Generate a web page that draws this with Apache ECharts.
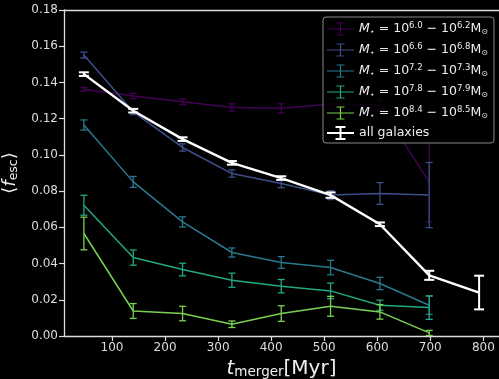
<!DOCTYPE html>
<html><head><meta charset="utf-8">
<script src="https://cdn.jsdelivr.net/npm/echarts@6/dist/echarts.min.js"></script>
<style>html,body{margin:0;padding:0;background:#000;}#c{width:499px;height:379px;}</style>
</head><body><div id="c"></div>
<script>
// ---- data ----
const tBins = [47, 140, 233, 326, 419, 512, 605, 698];
const tAll = [47, 140, 233, 326, 419, 512, 605, 698, 792];
const f60 = [0.1362, 0.1325, 0.1293, 0.1262, 0.1257, 0.1279, 0.1276, 0.085];
const e60 = [0.001, 0.0015, 0.0015, 0.002, 0.0025, 0.003, 0.003, 0.022];
const f66 = [0.1551, 0.1238, 0.1041, 0.0897, 0.0842, 0.0778, 0.0787, 0.0778];
const e66 = [0.0016, 0.0015, 0.002, 0.002, 0.0023, 0.0025, 0.006, 0.018];
const f72 = [0.1165, 0.0851, 0.063, 0.0461, 0.0406, 0.0378, 0.029, 0.017];
const e72 = [0.0028, 0.003, 0.0028, 0.0025, 0.0032, 0.004, 0.0034, 0.005];
const f78 = [0.0722, 0.0433, 0.0367, 0.0308, 0.0275, 0.0249, 0.017, 0.0157];
const e78 = [0.0055, 0.0042, 0.0035, 0.0039, 0.0037, 0.0043, 0.0028, 0.0065];
const f84 = [0.0566, 0.0138, 0.0124, 0.0065, 0.0124, 0.0164, 0.0133, 0.0017];
const e84 = [0.009, 0.0041, 0.004, 0.0018, 0.0043, 0.0055, 0.004, 0.0014];
const fAll = [0.1446, 0.1244, 0.1087, 0.0956, 0.0872, 0.0778, 0.0617, 0.0335, 0.024];
const eAll = [0.001, 0.001, 0.001, 0.001, 0.001, 0.0015, 0.001, 0.0025, 0.0093];
const xTicks = [100, 200, 300, 400, 500, 600, 700, 800];
const seriesNames = ['m60', 'm66', 'm72', 'm78', 'm84', 'all'];
const legendLabels = {
  m60: ['6.0', '6.2'], m66: ['6.6', '6.8'], m72: ['7.2', '7.3'],
  m78: ['7.8', '7.9'], m84: ['8.4', '8.5']
};

// ---- styles ----
const colors = ['#440154', '#3b4f8a', '#2a788e', '#22a884', '#7ad151', '#ffffff'];
const FONT = 'DejaVu Sans';

const chart = echarts.init(document.getElementById('c'), null, {renderer: 'canvas'});

function zip(xs, ys, es) { return xs.map((x, i) => [x, ys[i], es[i]]); }

function errSeries(name, data, color, lw, capHalf) {
  return {
    type: 'custom', name: name, data: data, z: 3,
    renderItem: function (params, api) {
      const x = api.value(0), y = api.value(1), e = api.value(2);
      const p1 = api.coord([x, y + e]);
      const p2 = api.coord([x, y - e]);
      const st = {stroke: color, lineWidth: lw};
      return {type: 'group', children: [
        {type: 'line', shape: {x1: p1[0], y1: p1[1], x2: p2[0], y2: p2[1]}, style: st},
        {type: 'line', shape: {x1: p1[0] - capHalf, y1: p1[1], x2: p1[0] + capHalf, y2: p1[1]}, style: st},
        {type: 'line', shape: {x1: p2[0] - capHalf, y1: p2[1], x2: p2[0] + capHalf, y2: p2[1]}, style: st}
      ]};
    }
  };
}
function lineSeries(name, xs, ys, color, lw) {
  return {
    type: 'line', name: name, data: xs.map((x, i) => [x, ys[i]]),
    showSymbol: false, symbol: 'none', z: 2,
    lineStyle: {color: color, width: lw}, itemStyle: {color: color}
  };
}

const groups = [
  [f60, e60], [f66, e66], [f72, e72], [f78, e78], [f84, e84]
];
const series = [];
groups.forEach((g, i) => {
  series.push(lineSeries(seriesNames[i], tBins, g[0], colors[i], 1.5));
  series.push(errSeries(seriesNames[i], zip(tBins, g[0], g[1]), colors[i], 1.3, 3.5));
});
series.push(lineSeries('all', tAll, fAll, colors[5], 2.4));
series.push(errSeries('all', zip(tAll, fAll, eAll), colors[5], 2, 5));

const thinIcon = 'path://M0,6.4h27v1.2h-27z M12.9,1h1.2v12h-1.2z M9.5,0.4h8v1.2h-8z M9.5,12.4h8v1.2h-8z';
const thickIcon = 'path://M0,6h27v2h-27z M12.5,1h2v12h-2z M8.5,0h10v2h-10z M8.5,12h10v2h-10z';

const option = {
  backgroundColor: '#000',
  animation: false,
  textStyle: {fontFamily: FONT},
  grid: {left: 64, right: 0, top: 10, bottom: 43, containLabel: false, outerBoundsMode: 'none'},
  xAxis: [{
    type: 'value', min: 9.5, max: 829.5,
    name: '{i|t}{sub|merger}{n|[Myr]}', nameLocation: 'middle', nameGap: 19,
    nameTextStyle: {color: '#eee', rich: {
      i: {fontFamily: FONT, fontStyle: 'italic', fontSize: 20, color: '#eee'},
      sub: {fontFamily: FONT, fontSize: 13.5, color: '#eee', padding: [8, 0, 0, 0]},
      n: {fontFamily: FONT, fontSize: 20, color: '#eee'}
    }},
    splitLine: {show: false},
    axisLine: {show: true, onZero: false, lineStyle: {color: '#ddd', width: 1.3}},
    axisTick: {show: true, length: 5, customValues: xTicks, lineStyle: {color: '#ddd', width: 1.2}},
    axisLabel: {customValues: xTicks, color: '#ddd', fontSize: 12, fontFamily: FONT, margin: 6}
  }, {
    type: 'value', position: 'top', min: 9.5, max: 829.5,
    axisLine: {show: true, onZero: false, lineStyle: {color: '#ddd', width: 1.3}},
    axisTick: {show: false}, axisLabel: {show: false}, splitLine: {show: false}
  }],
  yAxis: {
    type: 'value', min: 0, max: 0.18, interval: 0.02,
    name: '⟨{i|f}{sub|esc}⟩', nameLocation: 'middle', nameRotate: 90, nameGap: 30,
    nameTextStyle: {color: '#eee', fontSize: 18, fontFamily: FONT, rich: {
      i: {fontFamily: FONT, fontStyle: 'italic', fontSize: 18, color: '#eee'},
      sub: {fontFamily: FONT, fontSize: 12.5, color: '#eee', padding: [8, 0, 0, 0]}
    }},
    splitLine: {show: false},
    axisLine: {show: true, lineStyle: {color: '#ddd', width: 1.3}},
    axisTick: {show: true, length: 5, lineStyle: {color: '#ddd', width: 1.2}},
    axisLabel: {color: '#ddd', fontSize: 12, fontFamily: FONT, margin: 6,
      formatter: v => v.toFixed(2)}
  },
  legend: {
    orient: 'vertical', left: 323, top: 17,
    padding: [4, 6, 3, 4], itemGap: 6, itemWidth: 27, itemHeight: 14,
    backgroundColor: 'rgba(0,0,0,0.8)', borderColor: '#888', borderWidth: 1, borderRadius: 3,
    data: seriesNames.map((n, i) => ({name: n, icon: n === 'all' ? thickIcon : thinIcon,
      itemStyle: {color: colors[i]}})),
    formatter: function (name) {
      if (name === 'all') return '{t|all galaxies}';
      const l = legendLabels[name];
      return '{i|M}{s|⋆}{t| = 10}{sup|' + l[0] + '}{t| − 10}{sup|' + l[1] + '}{t|M}{s|⊙}';
    },
    textStyle: {color: '#eee', fontFamily: FONT, fontSize: 12.5, rich: {
      t: {fontFamily: FONT, fontSize: 12.5, color: '#eee'},
      i: {fontFamily: FONT, fontSize: 12.5, fontStyle: 'italic', color: '#eee'},
      s: {fontFamily: FONT, fontSize: 8, color: '#eee', padding: [6, 0, 0, 0]},
      sup: {fontFamily: FONT, fontSize: 8.5, color: '#eee', padding: [0, 0, 7, 0]}
    }}
  },
  series: series
};
chart.setOption(option);
</script>
</body></html>
